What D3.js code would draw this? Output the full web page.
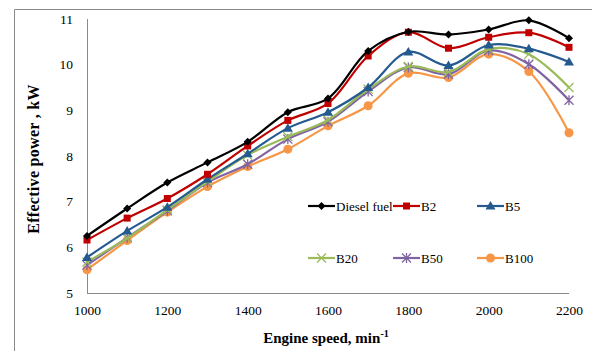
<!DOCTYPE html>
<html><head><meta charset="utf-8">
<script src="https://cdn.jsdelivr.net/npm/d3@7"></script>
<style>body{margin:0;background:#fff}svg{display:block}
svg text{font-family:"Liberation Serif","Times New Roman",Times,"DejaVu Serif",serif;}</style>
</head><body>
<svg id="c" width="592" height="351"></svg>
<script>
const speeds = [1000,1100,1200,1300,1400,1500,1600,1700,1800,1900,2000,2100,2200];
const diesel = [6.25,6.85,7.42,7.86,8.31,8.96,9.26,10.30,10.72,10.66,10.77,10.97,10.58];
const b2     = [6.16,6.64,7.07,7.60,8.22,8.78,9.15,10.19,10.71,10.36,10.60,10.70,10.38];
const b5     = [5.78,6.36,6.88,7.49,8.05,8.61,8.96,9.50,10.28,9.98,10.43,10.35,10.06];
const b20    = [5.68,6.20,6.82,7.44,8.02,8.42,8.79,9.46,9.96,9.84,10.34,10.23,9.50];
const b50    = [5.61,6.21,6.80,7.42,7.82,8.37,8.75,9.41,9.94,9.79,10.31,10.01,9.22];
const b100   = [5.51,6.15,6.77,7.33,7.77,8.15,8.66,9.10,9.81,9.72,10.23,9.85,8.51];
const seriesNames = ["Diesel fuel","B2","B5","B20","B50","B100"];
const xTicks = [1000,1200,1400,1600,1800,2000,2200];
const yTicks = [5,6,7,8,9,10,11];

const series = [
  {name:seriesNames[0], values:diesel, color:"#000000", marker:"diamond"},
  {name:seriesNames[1], values:b2, color:"#C00000", marker:"square"},
  {name:seriesNames[2], values:b5, color:"#245A8F", marker:"triangle"},
  {name:seriesNames[3], values:b20, color:"#9BBB59", marker:"x"},
  {name:seriesNames[4], values:b50, color:"#8064A2", marker:"star"},
  {name:seriesNames[5], values:b100, color:"#F79646", marker:"circle"}
];

const svg = d3.select("#c");
const serif = '"Liberation Serif","Times New Roman",Times,"DejaVu Serif",serif';

svg.append("path").attr("d","M14.5,351 L14.5,9.5 L592,9.5").attr("fill","none").attr("stroke","#8a8a8a").attr("stroke-width",1);

const x = d3.scaleLinear().domain([1000,2200]).range([87,569]);
const y = d3.scaleLinear().domain([5,11]).range([293,19]);

const xa = svg.append("g").attr("transform","translate(0,293)")
  .call(d3.axisBottom(x).tickValues(xTicks).tickSize(0).tickPadding(12).tickFormat(d3.format("d")));
xa.attr("font-family",null).attr("font-size",null);
xa.select(".domain").attr("stroke","#8a8a8a").attr("d","M87,0.5H569");
xa.selectAll("text").style("font-family",serif).style("font-size","13.5px").attr("fill","#000");

const ya = svg.append("g").attr("transform","translate(87,0)")
  .call(d3.axisLeft(y).tickValues(yTicks).tickSize(0).tickPadding(14).tickFormat(d3.format("d")));
ya.attr("font-family",null).attr("font-size",null);
ya.select(".domain").attr("stroke","#8a8a8a").attr("d","M0.5,19V293");
ya.selectAll("text").style("font-family",serif).style("font-size","13.5px").attr("fill","#000");

svg.append("text").attr("transform","translate(39,159) rotate(-90)").attr("text-anchor","middle")
  .style("font-family",serif).style("font-weight","bold").style("font-size","16px").attr("letter-spacing","0.3px")
  .text("Effective power , kW");
const xt = svg.append("text").attr("x",326).attr("y",343).attr("text-anchor","middle")
  .style("font-family",serif).style("font-weight","bold").style("font-size","15px");
xt.append("tspan").text("Engine  speed, min");
xt.append("tspan").attr("dy",-6).style("font-size","10px").text("-1");

function drawMarker(g, type, color, cx, cy) {
  if (type === "diamond") {
    g.append("path").attr("d",`M${cx},${cy-4}L${cx+4},${cy}L${cx},${cy+4}L${cx-4},${cy}Z`).attr("fill",color);
  } else if (type === "square") {
    g.append("rect").attr("x",cx-3.5).attr("y",cy-3.5).attr("width",7).attr("height",7).attr("fill",color);
  } else if (type === "triangle") {
    g.append("path").attr("d",`M${cx},${cy-5}L${cx+5},${cy+3.5}L${cx-5},${cy+3.5}Z`).attr("fill",color);
  } else if (type === "x") {
    g.append("path").attr("d",`M${cx-4.5},${cy-4.5}L${cx+4.5},${cy+4.5}M${cx-4.5},${cy+4.5}L${cx+4.5},${cy-4.5}`).attr("stroke",color).attr("stroke-width",1.3);
  } else if (type === "star") {
    g.append("path").attr("d",`M${cx-4.5},${cy-4.5}L${cx+4.5},${cy+4.5}M${cx-4.5},${cy+4.5}L${cx+4.5},${cy-4.5}M${cx},${cy-5}L${cx},${cy+5}`).attr("stroke",color).attr("stroke-width",1.3);
  } else if (type === "circle") {
    g.append("circle").attr("cx",cx).attr("cy",cy).attr("r",4.5).attr("fill",color);
  }
}

const line = d3.line().x((d,i)=>x(speeds[i])).y(d=>y(d)).curve(d3.curveCatmullRom.alpha(0.5));
series.slice().reverse().forEach(s => {
  const g = svg.append("g");
  g.append("path").attr("d",line(s.values)).attr("fill","none").attr("stroke",s.color).attr("stroke-width",2.2);
  s.values.forEach((v,i)=>drawMarker(g, s.marker, s.color, x(speeds[i]), y(v)));
});

const legPos = [[308,206],[393,206],[477,206],[308,258],[393,258],[477,258]];
series.forEach((s,i)=>{
  const [lx,ly] = legPos[i];
  const g = svg.append("g");
  g.append("line").attr("x1",lx).attr("x2",lx+27).attr("y1",ly).attr("y2",ly).attr("stroke",s.color).attr("stroke-width",2.2);
  drawMarker(g, s.marker, s.color, lx+13.5, ly);
  g.append("text").attr("x",lx+28).attr("y",ly+4.5).style("font-family",serif).style("font-size","13px").text(s.name);
});
</script>
</body></html>
